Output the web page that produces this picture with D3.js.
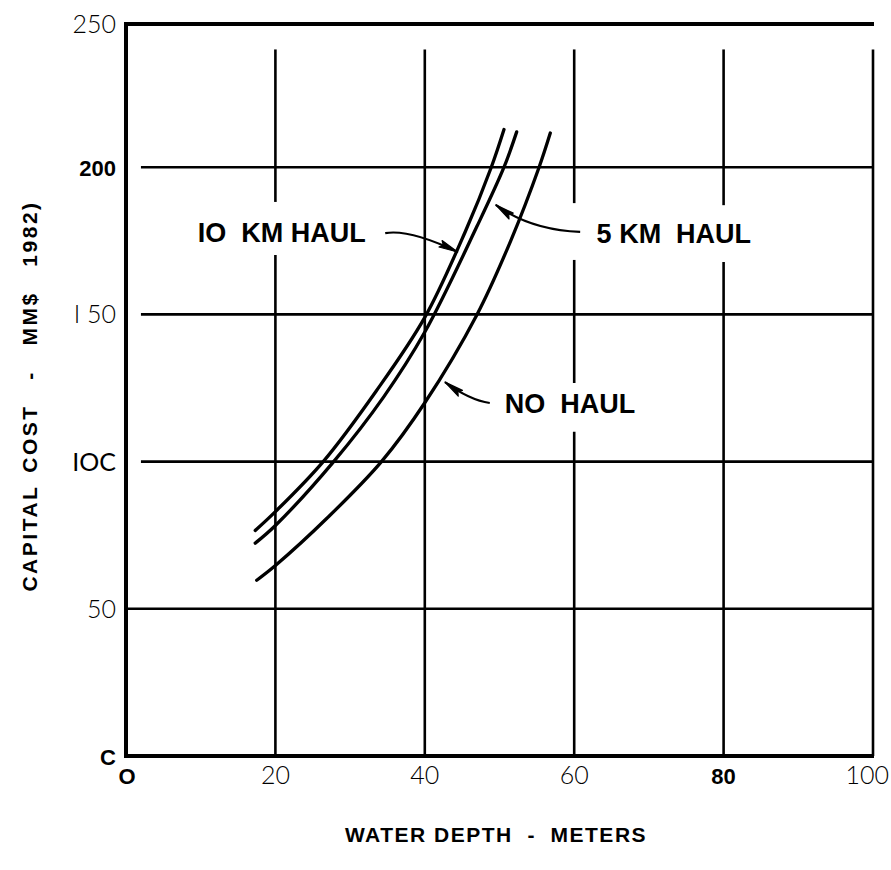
<!DOCTYPE html>
<html>
<head>
<meta charset="utf-8">
<script src="https://cdn.jsdelivr.net/npm/d3@7"></script>
<style>
  html, body { margin: 0; padding: 0; background: #fff; }
  svg { display: block; }
  .light { font-family: Lato, "Open Sans", sans-serif; font-weight: 300; }
  .regular { font-family: Lato, "Open Sans", sans-serif; font-weight: 400; }
  .heavy { font-family: "Liberation Sans", Arial, sans-serif; font-weight: bold; }
</style>
</head>
<body>
<svg id="chart" width="891" height="870"></svg>
<script>
// Capital cost (MM$ 1982) against water depth (m) for three haul distances
const depth10km = [17.3, 20, 26.4, 33.5, 40, 45.4, 48.9, 50.6];
const cost10km  = [76.6, 83.0, 100, 124, 149, 178, 200, 212.8];

const depth5km = [17.3, 20, 27.8, 34.5, 40, 47.0, 50.6, 52.3];
const cost5km  = [72.3, 78.3, 100, 122, 144, 180, 200, 212];

const depthNoHaul = [17.5, 20, 27, 34.2, 40, 47.0, 51.5, 55.3, 56.8];
const costNoHaul  = [59.7, 64.7, 81, 100, 120, 150, 175, 200, 211.6];

const seriesNames = ["10 KM HAUL", "5 KM HAUL", "NO HAUL"];

// Axis ticks and the way their labels are printed
const xTickValues = [0, 20, 40, 60, 80, 100];
const xTickLabels = ["O", "20", "40", "60", "80", "100"];
const yTickValues = [0, 50, 100, 150, 200, 250];
const yTickLabels = ["C", "50", "IOC", "I 50", "200", "250"];

const xTitle = "WATER DEPTH  -  METERS";
const yTitle = "CAPITAL COST  -  MM$  1982)";

const W = 891, H = 870;
const svg = d3.select("#chart");

const x = d3.scaleLinear().domain([0, 100]).range([126, 873]);
const y = d3.scaleLinear().domain([0, 250]).range([756, 20]);
const frameTop = y(250) + 4;

const ink = "#000";

// ---- grid -------------------------------------------------------------
// vertical rules are interrupted where the curve labels sit
const gridTop = 240;
const vGrid = [
  { v: 20,  parts: [[0, 170.2], [188.2, gridTop]] },
  { v: 40,  parts: [[0, gridTop]] },
  { v: 60,  parts: [[0, 110.1], [126.7, 168.5], [187.8, gridTop]] },
  { v: 80,  parts: [[0, 167.8], [187.1, gridTop]] },
  { v: 100, parts: [[0, gridTop]] }
];
const gGrid = svg.append("g").attr("stroke", ink).attr("stroke-width", 2.6);
vGrid.forEach(g => g.parts.forEach(p => {
  gGrid.append("line")
    .attr("x1", x(g.v)).attr("x2", x(g.v))
    .attr("y1", y(p[0])).attr("y2", y(p[1]));
}));
const hGrid = [
  { v: 50,  from: 0 },
  { v: 100, from: 2 },
  { v: 150, from: 2 },
  { v: 200, from: 2 }
];
hGrid.forEach(g => {
  gGrid.append("line")
    .attr("x1", x(g.from)).attr("x2", x(100))
    .attr("y1", y(g.v)).attr("y2", y(g.v));
});

// ---- frame ------------------------------------------------------------
const frame = svg.append("g").attr("stroke", ink).attr("stroke-width", 4).attr("fill", "none");
frame.append("line").attr("x1", x(0)).attr("x2", x(0)).attr("y1", frameTop - 2).attr("y2", y(0) + 2);
frame.append("line").attr("x1", x(0) - 2).attr("x2", x(100) + 1).attr("y1", y(0)).attr("y2", y(0));
frame.append("line").attr("x1", x(0) - 2).attr("x2", x(100) + 1).attr("y1", frameTop).attr("y2", frameTop);

// ---- curves -----------------------------------------------------------
const line = d3.line()
  .x(d => x(d[0])).y(d => y(d[1]))
  .curve(d3.curveCatmullRom.alpha(0.5));

const series = [
  d3.zip(depth10km, cost10km),
  d3.zip(depth5km, cost5km),
  d3.zip(depthNoHaul, costNoHaul)
];
svg.append("g").selectAll("path").data(series).join("path")
  .attr("d", line)
  .attr("fill", "none")
  .attr("stroke", ink)
  .attr("stroke-width", 3.3)
  .attr("stroke-linecap", "round");

// ---- tick labels ------------------------------------------------------
const heavyLabels = new Set(["O", "80", "C", "200"]);
const tickFont = t => heavyLabels.has(t) ? 22 : 25;
const tickClass = t => heavyLabels.has(t) ? "heavy" : (t === "IOC" ? "regular" : "light");

svg.append("g").selectAll("text").data(d3.zip(yTickValues, yTickLabels)).join("text")
  .attr("class", d => tickClass(d[1]))
  .attr("font-size", d => tickFont(d[1]))
  .attr("text-anchor", "end")
  .attr("x", 116)
  .attr("y", d => (d[0] === 250 ? frameTop : y(d[0])) + 9)
  .style("white-space", "pre")
  .text(d => d[1]);

svg.append("g").selectAll("text").data(d3.zip(xTickValues, xTickLabels)).join("text")
  .attr("class", d => tickClass(d[1]))
  .attr("font-size", d => tickFont(d[1]))
  .attr("text-anchor", d => d[0] === 100 ? "end" : "middle")
  .attr("x", d => d[0] === 100 ? W - 2 : x(d[0]) + (d[0] === 0 ? 1 : 0))
  .attr("y", 784)
  .text(d => d[1]);

// ---- curve labels with leader arrows -----------------------------------
const labelText = ["IO  KM HAUL", "5 KM  HAUL", "NO  HAUL"];
const labelAt = [[9.6, 174.6], [63.0, 174.3], [50.7, 116.5]];
// leader: start, control, tip (data units)
const leaders = [
  [[34.7, 177.6], [38.0, 179.0], [44.4, 171.2]],
  [[60.8, 178.0], [54.1, 178.7], [49.5, 187.2]],
  [[48.7, 119.9], [46.0, 120.9], [42.7, 127.0]]
];

svg.append("g").selectAll("text").data(labelText).join("text")
  .attr("class", "heavy")
  .attr("font-size", 27)
  .attr("x", (d, i) => x(labelAt[i][0]))
  .attr("y", (d, i) => y(labelAt[i][1]))
  .style("white-space", "pre")
  .text(d => d);

const gLead = svg.append("g");
leaders.forEach(L => {
  const [s, c, t] = L.map(p => [x(p[0]), y(p[1])]);
  gLead.append("path")
    .attr("d", `M${s[0]},${s[1]} Q${c[0]},${c[1]} ${t[0]},${t[1]}`)
    .attr("fill", "none").attr("stroke", ink).attr("stroke-width", 2.2);
  const ang = Math.atan2(t[1] - c[1], t[0] - c[0]) * 180 / Math.PI;
  gLead.append("path")
    .attr("d", "M0,0 L-19,-3.6 L-16,0 L-19,3.6 Z")
    .attr("transform", `translate(${t[0]},${t[1]}) rotate(${ang})`)
    .attr("fill", ink).attr("stroke", ink).attr("stroke-width", 1.2)
    .attr("stroke-linejoin", "round");
});

// ---- axis titles -------------------------------------------------------
svg.append("text")
  .attr("class", "heavy")
  .attr("font-size", 21)
  .attr("letter-spacing", 1.5)
  .attr("x", 496).attr("y", 842)
  .attr("text-anchor", "middle")
  .style("white-space", "pre")
  .text(xTitle);

svg.append("text")
  .attr("class", "heavy")
  .attr("font-size", 21)
  .attr("letter-spacing", 2.5)
  .attr("word-spacing", 4)
  .attr("transform", "translate(37,396) rotate(-90)")
  .attr("text-anchor", "middle")
  .style("white-space", "pre")
  .text(yTitle);
</script>
</body>
</html>
